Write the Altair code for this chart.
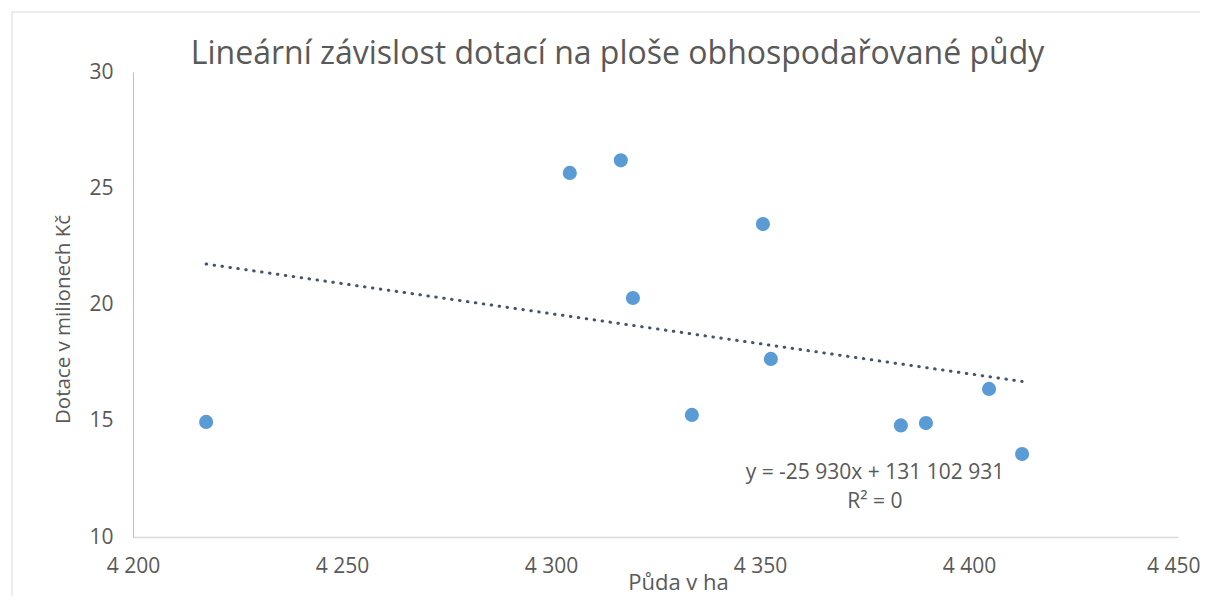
import altair as alt
import pandas as pd

puda_ha = [4217.5, 4304.5, 4316.7, 4319.6, 4333.7, 4350.7, 4352.6, 4383.7, 4389.7, 4404.8, 4412.7]
dotace_mil = [14.95, 25.66, 26.2, 20.28, 15.25, 23.46, 17.66, 14.8, 14.9, 16.37, 13.57]

eq_texts = ["y = -25 930x + 131 102 931", "R² = 0"]
eq_x = [4377.5, 4377.5]
eq_y = [12.75, 11.5]

x_ticks = [4200, 4250, 4300, 4350, 4400, 4450]
y_ticks = [10, 15, 20, 25, 30]

df = pd.DataFrame({"x": puda_ha, "y": dotace_mil})

GREY = "#595959"
FONT = "Open Sans"

xs = alt.Scale(domain=[4200, 4450], nice=False, zero=False)
ys = alt.Scale(domain=[10, 30], nice=False, zero=False)

base = alt.Chart(df)

points = base.mark_circle(size=200, color="#5B9BD5", opacity=1).encode(
    x=alt.X("x:Q", scale=xs, title="Půda v ha",
            axis=alt.Axis(values=x_ticks,
                          labelExpr="replace(format(datum.value, ','), ',', ' ')",
                          labelFlush=False,
                          labelAlign={"condition": {"test": "datum.value == 4450", "value": "right"}, "value": "center"},
                          labelOffset={"condition": {"test": "datum.value == 4450", "value": 22}, "value": 0},
                          grid=False, ticks=False, domainColor="#D9D9D9", domainWidth=1.5,
                          labelPadding=18, titleY=52, titleX=545, titleBaseline="alphabetic",
                          titleFontSize=22)),
    y=alt.Y("y:Q", scale=ys, title="Dotace v milionech Kč",
            axis=alt.Axis(values=y_ticks, grid=False, ticks=False,
                          labelFlush=False, titleY=247,
                          domainColor="#BFBFBF", labelPadding=20, titlePadding=15)),
)

trend = base.transform_regression("x", "y").mark_line(
    color="#44546A", strokeWidth=3, strokeDash=[0.5, 7.5], strokeCap="round"
).encode(x=alt.X("x:Q", scale=xs), y=alt.Y("y:Q", scale=ys))

eq_df = pd.DataFrame({"t": eq_texts, "px": eq_x, "py": eq_y})
eq = alt.Chart(eq_df).mark_text(font=FONT, fontSize=21, color=GREY, align="center").encode(
    x=alt.X("px:Q", scale=xs), y=alt.Y("py:Q", scale=ys), text="t:N"
)

border = alt.Chart(pd.DataFrame({"a": [0]})).mark_rect(
    fill=None, stroke="#D9D9D9", strokeWidth=1
).encode(x=alt.value(-121), x2=alt.value(1090), y=alt.value(-60), y2=alt.value(545))

chart = alt.layer(border, trend, points, eq).properties(
    width=1045, height=465,
    title=alt.TitleParams("Lineární závislost dotací na ploše obhospodařované půdy",
                          font=FONT, fontSize=32, fontWeight="normal", color=GREY,
                          anchor="middle", frame="group", baseline="alphabetic",
                          offset=0, dx=-38, dy=84),
    autosize=alt.AutoSizeParams(type="none"),
    padding={"left": 125, "top": 64, "right": 22, "bottom": 59},
).configure_view(stroke=None).configure_axis(
    labelFont=FONT, titleFont=FONT, labelFontSize=21, titleFontSize=20.5,
    labelColor=GREY, titleColor=GREY, titleFontWeight="normal"
)

chart.save("out.html", embed_options={"renderer": "svg", "actions": False})
